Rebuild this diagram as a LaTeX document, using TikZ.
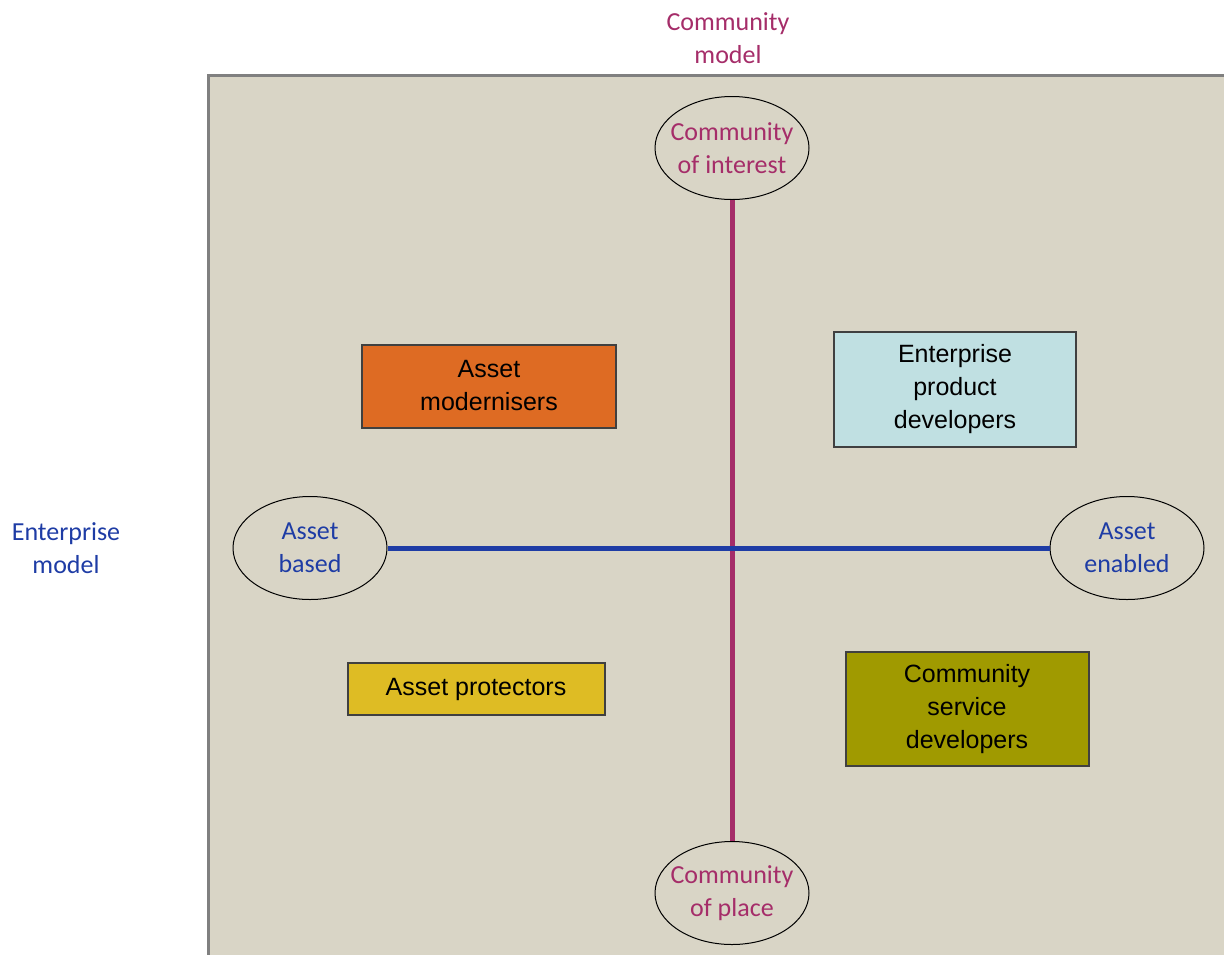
\documentclass[tikz,border=0pt]{standalone}
\usepackage{fontspec}
\setmainfont{Liberation Sans}
\newfontfamily\calfont{Carlito}
\usetikzlibrary{shapes.geometric}

\definecolor{panelfill}{RGB}{217,213,198}
\definecolor{panelrule}{RGB}{128,128,128}
\definecolor{commcol}{RGB}{165,45,105}
\definecolor{assetcol}{RGB}{30,60,165}
\definecolor{modfill}{RGB}{222,107,35}
\definecolor{prodfill}{RGB}{192,224,226}
\definecolor{protfill}{RGB}{222,188,36}
\definecolor{servfill}{RGB}{160,154,0}

\begin{document}
\begin{tikzpicture}[x=1pt,y=-1pt]

\tikzstyle{pole}=[draw=black, line width=1pt, ellipse, minimum width=154pt, minimum height=103pt, inner xsep=-8pt, inner ysep=0pt, align=center, font=\calfont\fontsize{26}{33}\selectfont]
\tikzstyle{quadrant}=[draw=black!75, line width=2pt, align=center, inner sep=0pt, font=\fontsize{25}{33}\selectfont]
\tikzstyle{axislabel}=[align=center, font=\calfont\fontsize{26}{33}\selectfont]
\tikzstyle{commline}=[commcol, line width=5pt]
\tikzstyle{assetline}=[assetcol, line width=5pt]

\useasboundingbox (0,0) rectangle (1224,954);
\clip (0,0) rectangle (1224,954);

% panel
\fill[panelfill] (208,75) rectangle (1240,970);
\draw[panelrule, line width=3pt] (208,970) -- (208,75) -- (1240,75);

% axis titles
\node[axislabel, text=commcol] (comm_model) at (728,38) {Community\\model};
\node[axislabel, text=assetcol] (ent_model) at (66,548) {Enterprise\\model};

% poles
\node[pole, text=commcol] (interest) at (732,148) {Community\\of interest};
\node[pole, text=commcol] (place) at (732,893) {Community\\of place};
\node[pole, text=assetcol] (based) at (310,548) {Asset\\based};
\node[pole, text=assetcol] (enabled) at (1127,548) {Asset\\enabled};

\draw[commline] (interest) -- (place);
\draw[assetline] (based) -- (enabled);

% quadrants
\node[quadrant, fill=modfill, minimum width=254pt, minimum height=83pt] (modernisers) at (489,386) {Asset\\modernisers};
\node[quadrant, fill=prodfill, minimum width=242pt, minimum height=115pt] (product_dev) at (955,389) {Enterprise\\product\\developers};
\node[quadrant, fill=protfill, minimum width=257pt, minimum height=52pt] (protectors) at (476,689) {Asset protectors};
\node[quadrant, fill=servfill, minimum width=243pt, minimum height=114pt] (service_dev) at (967,709) {Community\\service\\developers};

\end{tikzpicture}
\end{document}
